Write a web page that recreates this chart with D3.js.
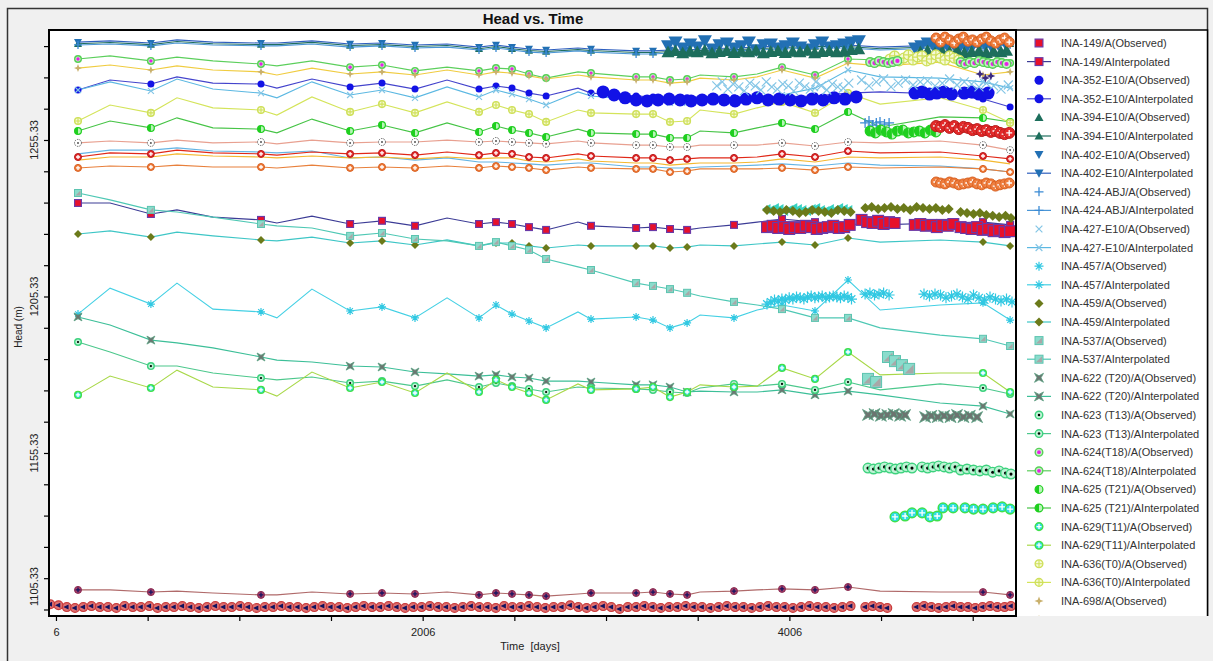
<!DOCTYPE html>
<html><head><meta charset="utf-8">
<script src="https://cdn.jsdelivr.net/npm/d3@7"></script>
<style>
html,body{margin:0;padding:0;background:#f0f0f0;}
svg{display:block;font-family:Arial,"Liberation Sans",sans-serif;}
</style></head><body>
<svg id="c" width="1213" height="661"></svg>
<script>
// ---------------- DATA ----------------
const gridDays = [126,301,524,666,862,1124,1211,1402,1610,1784,1964,2139,2313,2406,2493,2586,2679,2853,2924,3170,3262,3355,3448,3519,3704,3830,3966,4146,4326,4501,4828,5062,5210];
const obsDays = [126,524,1124,1610,1784,1964,2313,2406,2493,2586,2679,2924,3170,3262,3355,3448,3704,3966,4146,4326,5062,5210];

const h149 = [1235.2,1235.2,1231.7,1233.0,1230.7,1229.8,1228.8,1231.0,1228.5,1229.5,1227.9,1230.4,1228.5,1229.1,1228.5,1227.5,1226.6,1229.1,1227.9,1227.2,1227.5,1226.9,1226.6,1227.2,1228.2,1229.1,1230.1,1229.1,1228.5,1228.2,1228.8,1229.1,1228.2];
const h352 = [1271.3,1274.5,1273.2,1275.5,1273.5,1273.2,1271.9,1274.8,1272.3,1273.5,1271.6,1274.5,1271.6,1272.6,1271.9,1270.3,1269.4,1271.9,1270.3,1269.4,1269.1,1268.4,1268.8,1269.1,1268.8,1269.4,1269.1,1269.4,1270.3,1270.7,1270.0,1268.4,1265.9];
const h394 = [1286.1,1286.5,1285.8,1286.8,1286.1,1285.8,1285.8,1286.5,1285.5,1285.8,1285.2,1285.5,1284.5,1285.2,1284.5,1283.9,1283.6,1284.2,1283.9,1283.3,1283.3,1283.6,1283.6,1283.9,1284.2,1284.5,1284.9,1285.2,1285.2,1284.5,1285.2,1285.5,1286.1];
const h402 = [1286.6,1287.0,1286.3,1287.3,1286.6,1286.3,1286.3,1287.0,1286.0,1286.3,1285.7,1286.0,1285.0,1285.7,1285.0,1284.4,1284.1,1284.7,1284.4,1283.8,1283.8,1284.1,1284.1,1284.4,1284.7,1285.0,1285.4,1285.7,1285.7,1285.0,1285.7,1286.0,1286.6];
const h424 = [1285.7,1286.0,1285.4,1286.3,1285.7,1285.4,1285.4,1286.0,1285.0,1285.4,1284.7,1285.0,1284.1,1284.7,1284.1,1283.4,1283.1,1283.8,1283.4,1282.8,1282.8,1283.1,1283.1,1283.4,1283.8,1284.1,1284.4,1284.7,1284.7,1284.1,1284.7,1285.0,1285.7];
const h427 = [1271.3,1273.9,1271.0,1274.8,1271.6,1270.3,1268.8,1273.9,1269.7,1271.3,1268.8,1272.3,1269.1,1271.3,1270.0,1268.4,1266.5,1270.7,1269.4,1268.1,1268.1,1267.2,1267.2,1267.8,1267.5,1268.4,1269.7,1271.9,1277.7,1275.5,1275.1,1273.9,1271.9];
const h457 = [1199.7,1208.0,1202.9,1209.6,1201.3,1200.4,1198.5,1207.7,1200.7,1202.0,1198.5,1204.9,1198.5,1202.6,1199.7,1197.5,1195.3,1200.4,1198.1,1198.8,1197.8,1195.3,1196.9,1199.4,1198.5,1201.0,1202.6,1200.7,1210.6,1201.0,1202.6,1203.3,1197.8];
const h459 = [1225.3,1226.3,1224.3,1225.9,1224.7,1223.4,1223.1,1224.3,1222.4,1223.1,1221.8,1223.4,1221.5,1222.4,1222.4,1221.5,1220.8,1221.8,1221.5,1221.5,1221.5,1220.8,1221.1,1221.8,1221.5,1222.1,1222.7,1221.8,1224.0,1222.7,1223.4,1222.7,1221.5];
const h537 = [1238.4,1236.2,1233.0,1232.3,1230.7,1228.5,1227.9,1227.2,1224.7,1225.6,1223.7,1223.1,1221.5,1222.7,1221.5,1220.2,1217.3,1214.8,1213.8,1209.6,1208.7,1207.7,1206.5,1205.5,1203.6,1202.6,1201.3,1198.5,1198.5,1195.3,1193.0,1191.8,1189.5];
const h622 = [1198.8,1196.2,1191.4,1190.5,1188.9,1186.0,1185.0,1184.4,1183.1,1182.8,1181.2,1180.6,1179.9,1180.3,1179.6,1179.3,1178.3,1178.3,1178.0,1177.1,1177.1,1176.4,1174.8,1175.1,1174.8,1174.8,1175.5,1173.9,1175.1,1173.9,1171.3,1170.3,1167.8];
const h623 = [1190.8,1187.6,1183.1,1183.1,1180.9,1179.3,1178.7,1179.6,1177.7,1178.3,1176.7,1178.7,1176.4,1177.7,1176.7,1175.8,1174.8,1176.4,1176.1,1175.8,1175.5,1174.8,1174.5,1176.1,1177.4,1176.7,1177.4,1175.5,1178.0,1175.5,1177.4,1176.1,1174.2];
const h624 = [1281.2,1282.2,1280.6,1281.8,1280.6,1279.6,1279.0,1280.6,1278.6,1279.3,1277.4,1278.6,1277.4,1278.3,1278.0,1276.4,1275.1,1277.1,1276.7,1275.5,1275.5,1274.5,1274.8,1276.1,1275.5,1276.4,1278.6,1276.1,1281.2,1280.9,1282.5,1280.2,1279.9];
const h625 = [1258.2,1261.4,1259.2,1262.4,1259.2,1258.8,1257.6,1262.0,1258.2,1260.1,1257.6,1260.8,1257.9,1259.8,1258.5,1257.6,1256.3,1258.8,1257.6,1257.2,1257.2,1256.0,1256.0,1258.2,1257.6,1259.2,1260.8,1258.8,1264.3,1259.5,1262.7,1262.4,1261.1];
const h629 = [1173.9,1179.9,1176.1,1181.8,1176.4,1175.5,1173.5,1181.2,1176.1,1178.0,1174.5,1180.9,1174.8,1178.7,1176.4,1174.5,1172.3,1177.4,1175.5,1175.8,1176.4,1173.2,1174.8,1177.1,1176.4,1176.7,1182.5,1179.0,1187.6,1180.3,1180.9,1180.9,1174.8];
const h636 = [1261.4,1266.5,1264.0,1268.8,1265.6,1264.9,1263.3,1269.1,1264.3,1266.8,1264.0,1267.5,1264.3,1266.5,1264.9,1263.6,1261.1,1264.9,1264.0,1263.6,1263.6,1261.1,1261.4,1264.9,1263.6,1265.6,1267.5,1264.0,1270.3,1266.8,1268.8,1264.9,1260.8];
const h698 = [1278.3,1279.3,1277.7,1279.0,1277.7,1277.1,1276.1,1278.3,1276.4,1277.1,1276.1,1277.7,1276.1,1277.1,1276.7,1275.8,1274.8,1276.1,1275.5,1274.5,1274.5,1273.5,1273.9,1275.1,1274.5,1275.5,1277.7,1275.1,1279.9,1279.0,1280.2,1276.1,1277.1];
// wells below the visible part of the legend
const hS1 = [1254.4,1255.0,1254.4,1255.3,1254.4,1254.7,1254.1,1255.3,1254.4,1254.7,1254.7,1255.3,1254.7,1255.0,1254.7,1254.4,1254.1,1255.0,1254.4,1253.7,1253.7,1253.1,1253.1,1253.7,1253.7,1253.7,1254.4,1253.4,1254.7,1254.4,1255.0,1253.7,1252.1];
const hS2 = [1249.9,1251.2,1250.9,1252.1,1251.2,1250.9,1250.5,1251.5,1250.9,1251.2,1250.5,1251.5,1250.5,1251.2,1250.9,1249.9,1249.6,1250.9,1250.2,1249.6,1249.6,1248.9,1249.3,1249.6,1249.6,1249.9,1250.9,1249.9,1251.8,1251.2,1251.5,1250.2,1249.3];
const hS3 = [1248.9,1249.9,1249.9,1250.9,1250.2,1249.9,1249.6,1250.2,1249.6,1249.9,1249.3,1249.9,1249.3,1249.6,1249.6,1248.6,1248.3,1249.3,1248.6,1248.0,1248.0,1247.3,1247.7,1248.0,1248.0,1248.3,1249.3,1248.3,1249.9,1249.6,1249.9,1248.9,1247.7];
const hS4 = [1250.9,1252.1,1252.1,1252.8,1251.8,1251.5,1251.2,1251.8,1249.6,1249.9,1248.9,1249.6,1248.3,1248.3,1248.0,1247.7,1247.3,1248.0,1248.0,1246.7,1246.7,1246.4,1246.4,1246.7,1247.0,1247.3,1247.7,1247.0,1248.0,1247.3,1247.0,1246.1,1245.1];
const hS5 = [1246.4,1247.0,1246.7,1247.3,1246.7,1246.7,1246.4,1247.3,1246.4,1246.7,1246.4,1247.0,1246.4,1247.0,1246.7,1246.4,1245.7,1246.7,1246.4,1246.1,1246.1,1245.1,1245.4,1246.1,1246.1,1246.1,1246.4,1245.7,1246.7,1246.4,1246.7,1246.1,1245.1];
const hS7 = [1111.6,1111.6,1110.9,1111.2,1110.6,1110.0,1110.0,1110.9,1110.3,1110.6,1110.3,1110.9,1110.0,1110.6,1110.3,1110.0,1109.6,1110.3,1110.6,1110.6,1110.9,1110.3,1110.0,1110.9,1111.2,1111.6,1111.9,1111.6,1112.5,1111.2,1110.9,1110.9,1110.0];

// dense observation clusters
const c402Days = [3344,3385,3425,3465,3505,3545,3585,3625,3665,3705,3745,3785,3825,3865,3905,3945,3985,4025,4065,4105,4145,4185,4225,4265,4305,4345,4385,4691,4725,4760,4795,4830,4865,4900,4935,4970,5005,5040,5075,5110,5145,5180];
const c402Vals = [1285.4,1286.6,1284.7,1286.0,1285.0,1287.0,1284.4,1285.7,1286.3,1284.7,1285.4,1286.6,1284.1,1285.7,1286.0,1284.7,1285.4,1286.3,1285.0,1284.4,1285.7,1286.6,1285.0,1285.4,1286.0,1286.6,1287.0,1284.7,1285.4,1286.3,1285.0,1284.4,1285.7,1286.0,1285.0,1284.7,1285.4,1286.3,1285.7,1285.0,1286.0,1286.6];
const c394Days = [3344,3384,3424,3464,3504,3544,3584,3624,3664,3704,3744,3784,3824,3864,3904,3944,3984,4024,4064,4104,4144,4184,4224,4264,4304,4344,4384,4720,4760,4800,4840,4880,4920,4960,5000,5040,5080,5120,5160,5190];
const c394Vals = [1283.4,1283.8,1283.1,1283.6,1283.4,1283.9,1283.1,1283.5,1283.8,1283.2,1283.6,1283.4,1283.9,1283.1,1283.5,1283.8,1283.2,1283.6,1283.4,1283.9,1283.1,1283.5,1283.8,1283.4,1283.6,1284.1,1284.4,1283.4,1283.8,1283.1,1283.6,1283.4,1283.9,1283.1,1283.5,1283.8,1283.2,1283.6,1283.4,1283.9];
const lateDays = [4806,4830,4855,4880,4905,4930,4955,4980,5005,5030,5055,5080,5105,5130,5155,5180,5205];
const cS9Vals = [1287.9,1286.6,1288.2,1287.3,1286.3,1287.6,1288.2,1286.9,1287.3,1286.6,1287.6,1288.2,1287.0,1286.3,1287.3,1287.9,1286.6];
const cS2Vals = [1259.8,1259.5,1260.1,1259.2,1259.8,1258.8,1259.5,1259.2,1258.5,1258.8,1258.2,1258.5,1257.9,1258.2,1257.6,1257.2,1257.6];
const cS5Vals = [1241.9,1241.6,1241.3,1241.9,1241.6,1241.0,1241.3,1241.6,1241.9,1241.3,1241.0,1241.6,1241.3,1240.6,1241.0,1241.3,1241.6];
const c624Days = [4446,4470,4495,4520,4545,4570,4595,4940,4965,4990,5015,5040,5065,5090,5115,5140,5165,5190];
const c624Vals = [1280.2,1279.9,1280.6,1280.2,1279.9,1280.2,1280.6,1280.2,1279.6,1280.2,1279.9,1280.6,1280.2,1279.9,1279.6,1280.2,1279.9,1279.6];
const c636Days = [4555,4580,4605,4630,4655,4680,4705,4730,4755,4780,4805,4830,4855,4880,4905,4930];
const c636Vals = [1281.2,1282.2,1280.6,1281.5,1282.5,1280.9,1281.8,1282.2,1280.6,1281.2,1282.5,1281.5,1280.9,1282.2,1281.5,1280.9];
const c698Days = [5045,5075,5105];
const c698Vals = [1276.4,1275.1,1275.8];
const c427Days = [3610,3640,3670,3700,3730,3760,3790,3820,3850,3880,3910,3940,3970,4000,4030,4060,4090,4120,4150,4180,4210,4240,4270,4300,4330,4400,4440,4480,4520,4560,4600,4640,4680,4720,4760,4800,4840,4880,4920,4960,5000,5040,5080,5120,5160,5200];
const c427Vals = [1272.6,1273.9,1271.6,1273.2,1272.3,1271.0,1273.5,1272.6,1271.3,1273.9,1272.3,1271.6,1273.2,1272.6,1271.0,1273.5,1272.3,1271.6,1273.9,1272.6,1271.3,1273.2,1272.3,1271.9,1273.5,1274.5,1272.6,1273.9,1274.8,1272.3,1273.5,1274.5,1272.9,1273.9,1274.2,1272.6,1273.5,1274.8,1272.9,1273.9,1273.2,1272.3,1273.5,1272.6,1271.6,1272.9];
const c352Days = [2990,3050,3110,3170,3230,3290,3350,3410,3470,3530,3590,3650,3710,3770,3830,3890,3950,4010,4070,4130,4190,4250,4310,4370,4691,4730,4770,4810,4850,4890,4960,5000,5040,5090];
const c352Vals = [1270.7,1269.7,1268.8,1268.1,1267.8,1268.1,1268.4,1268.1,1267.8,1268.1,1268.4,1268.1,1267.8,1268.4,1268.8,1268.1,1268.4,1268.1,1267.8,1268.4,1268.1,1268.8,1268.4,1269.1,1270.3,1270.7,1270.0,1270.3,1270.7,1270.0,1270.3,1270.7,1270.0,1270.3];
const c424Days = [4419,4440,4460,4480,4500,4525,4550];
const c424Vals = [1260.8,1261.4,1260.1,1260.8,1261.1,1260.4,1260.8];
const c625Days = [4446,4475,4505,4535,4565,4595,4625,4655,4685,4715,4745,4775,4805];
const c625Vals = [1258.2,1257.6,1258.5,1257.9,1257.2,1258.2,1258.5,1257.6,1257.9,1258.2,1257.6,1258.5,1257.9];
const c459Days = [3884,3920,3955,3990,4025,4060,4095,4130,4165,4200,4235,4270,4305,4340,4420,4455,4490,4525,4560,4595,4630,4665,4700,4735,4770,4805,4840,4875,4940,4975,5010,5045,5080,5115,5150,5185,5215];
const c459Vals = [1233.0,1232.6,1232.3,1233.0,1232.6,1232.0,1232.3,1233.0,1232.6,1232.3,1232.0,1233.0,1232.6,1232.3,1233.6,1233.9,1233.3,1233.6,1233.9,1233.3,1233.6,1233.0,1233.9,1233.6,1233.3,1233.6,1233.0,1233.3,1232.3,1232.0,1231.7,1232.0,1231.4,1231.1,1230.7,1231.1,1230.4];
const cS10Days = [3884,3905,3930,3955,3980,4005,4030,4055,4080,4105,4130,4155,4180,4205,4230,4255,4280,4305,4330];
const cS10Vals = [1233.3,1233.0,1233.6,1233.3,1232.6,1233.0,1233.6,1233.3,1233.0,1232.6,1233.3,1233.6,1233.0,1232.6,1233.3,1233.0,1233.6,1233.3,1233.0];
const c149Days = [3884,3915,3945,3975,4005,4035,4065,4095,4125,4155,4185,4215,4245,4275,4305,4335,4400,4430,4460,4490,4520,4550,4580,4690,4720,4750,4780,4810,4840,4870,4900,4940,4970,5000,5030,5060,5090,5120,5150,5180,5210];
const c149Vals = [1227.5,1227.9,1227.2,1227.5,1226.9,1227.5,1227.2,1227.9,1227.5,1226.9,1227.2,1227.5,1227.9,1227.2,1227.5,1228.2,1229.8,1229.1,1228.8,1229.5,1228.5,1229.1,1228.8,1228.2,1228.5,1227.9,1228.2,1227.5,1228.2,1227.9,1228.5,1227.5,1227.2,1226.9,1227.5,1226.6,1226.9,1226.2,1226.6,1225.9,1226.2];
const c457Days = [3884,3905,3925,3945,3965,3985,4005,4025,4045,4065,4085,4105,4125,4145,4165,4185,4205,4225,4245,4265,4285,4305,4325,4345,4419,4445,4470,4495,4520,4550,4740,4770,4800,4830,4860,4890,4920,4950,4980,5010,5040,5070,5100,5130,5160,5190,5220];
const c457Vals = [1202.9,1203.6,1204.2,1203.9,1204.5,1204.2,1204.9,1204.5,1205.2,1204.9,1204.5,1205.2,1205.5,1204.9,1205.2,1205.5,1204.9,1205.2,1205.5,1205.2,1204.9,1205.5,1205.2,1204.5,1206.1,1206.4,1205.8,1206.1,1206.4,1205.8,1206.1,1205.5,1206.1,1205.8,1204.9,1205.5,1206.1,1205.2,1204.5,1205.8,1204.9,1204.2,1205.2,1204.5,1203.9,1204.5,1203.6];
const c537Days = [4435,4479,4544,4582,4620,4659];
const c537Vals = [1179.0,1178.0,1186.0,1184.7,1183.4,1182.2];
const c622Days = [4435,4470,4505,4540,4575,4610,4637,4746,4780,4815,4850,4885,4920,4955,4990,5030];
const c622Vals = [1167.5,1167.8,1167.2,1167.5,1167.8,1167.2,1167.5,1166.8,1167.2,1166.8,1167.2,1166.8,1167.5,1166.8,1167.2,1166.8];
const c623Days = [4435,4465,4495,4525,4555,4585,4615,4645,4675,4730,4760,4790,4820,4850,4880,4910,4940,4975,5010,5045,5080,5115,5150,5185,5215];
const c623Vals = [1150.5,1150.2,1150.5,1150.9,1150.5,1150.2,1150.5,1150.9,1150.5,1150.9,1150.5,1150.9,1151.2,1150.9,1150.5,1150.9,1149.9,1150.2,1149.9,1149.6,1149.9,1149.2,1149.6,1148.9,1148.6];
const c629Days = [4582,4637,4675,4730,4773,4812,4844,4899,4964,5010,5062,5117,5166,5210];
const c629Vals = [1134.9,1135.2,1136.2,1136.2,1134.9,1135.2,1137.8,1137.8,1137.8,1137.4,1137.4,1137.8,1138.1,1137.4];
const cS8Days = [-25,20,65,110,155,200,245,290,335,380,425,470,515,560,605,650,695,740,785,830,875,920,965,1010,1055,1100,1145,1190,1235,1280,1325,1370,1415,1460,1505,1550,1595,1640,1685,1730,1775,1820,1865,1910,1955,2000,2045,2090,2135,2180,2225,2270,2315,2360,2405,2450,2495,2540,2585,2630,2675,2720,2765,2810,2855,2900,2945,2990,3035,3080,3125,3170,3215,3260,3305,3350,3395,3440,3485,3530,3575,3620,3665,3710,3755,3800,3845,3890,3935,3980,4025,4070,4115,4160,4205,4250,4295,4340,4420,4460,4500,4540,4700,4740,4780,4820,4860,4900,4940,4980,5020,5060,5100,5140,5180,5215];
const cS8Vals = [1107.0,1106.7,1106.1,1105.8,1106.1,1106.4,1106.1,1106.1,1105.8,1106.4,1106.1,1106.1,1106.4,1105.8,1106.1,1106.1,1106.4,1106.1,1105.8,1106.1,1106.4,1106.1,1106.1,1106.4,1106.1,1105.8,1106.1,1106.1,1106.4,1106.1,1106.1,1105.8,1106.1,1106.4,1106.1,1106.1,1105.8,1106.1,1106.4,1106.1,1106.1,1106.4,1106.1,1105.8,1106.1,1106.1,1106.4,1106.1,1106.1,1105.8,1106.1,1106.4,1106.1,1106.1,1105.8,1106.4,1106.1,1106.1,1106.4,1106.1,1105.8,1106.1,1106.1,1106.7,1106.1,1105.8,1106.1,1106.4,1106.1,1105.5,1106.1,1106.1,1106.4,1106.1,1105.8,1106.1,1106.1,1106.4,1106.1,1106.1,1105.8,1106.1,1106.4,1106.1,1106.1,1105.8,1106.1,1106.4,1106.1,1106.1,1105.8,1106.1,1106.4,1106.1,1106.1,1105.8,1106.1,1106.4,1106.1,1106.4,1106.1,1105.8,1106.1,1106.4,1106.1,1105.8,1106.1,1106.4,1106.1,1106.1,1105.8,1106.1,1106.4,1106.1,1106.1,1106.4];

const legendLabels = ["INA-149/A(Observed)","INA-149/AInterpolated","INA-352-E10/A(Observed)","INA-352-E10/AInterpolated","INA-394-E10/A(Observed)","INA-394-E10/AInterpolated","INA-402-E10/A(Observed)","INA-402-E10/AInterpolated","INA-424-ABJ/A(Observed)","INA-424-ABJ/AInterpolated","INA-427-E10/A(Observed)","INA-427-E10/AInterpolated","INA-457/A(Observed)","INA-457/AInterpolated","INA-459/A(Observed)","INA-459/AInterpolated","INA-537/A(Observed)","INA-537/AInterpolated","INA-622 (T20)/A(Observed)","INA-622 (T20)/AInterpolated","INA-623 (T13)/A(Observed)","INA-623 (T13)/AInterpolated","INA-624(T18)/A(Observed)","INA-624(T18)/AInterpolated","INA-625 (T21)/A(Observed)","INA-625 (T21)/AInterpolated","INA-629(T11)/A(Observed)","INA-629(T11)/AInterpolated","INA-636(T0)/A(Observed)","INA-636(T0)/AInterpolated","INA-698/A(Observed)","INA-698/AInterpolated"];
const xTickValues = [6,506,1006,1506,2006,2506,3006,3506,4006,4506,5006];
const xTickLabels = ["6","2006","4006"];
const yTickValues = [1105.33,1115.33,1125.33,1135.33,1145.33,1155.33,1165.33,1175.33,1185.33,1195.33,1205.33,1215.33,1225.33,1235.33,1245.33,1255.33,1265.33,1275.33,1285.33];
const yTickLabels = ["1105.33","1155.33","1205.33","1255.33"];

// ---------------- SERIES TABLE ----------------
const named = [
  {vals:h149, color:'#3c3c96', marker:'square'},
  {vals:h352, color:'#4444cc', marker:'circle', ms:7},
  {vals:h394, color:'#1f6e5e', marker:'triUp'},
  {vals:h402, color:'#2f5fbf', marker:'triDown'},
  {vals:h424, color:'#4b96d6', marker:'plus'},
  {vals:h427, color:'#5cb8e2', marker:'cross'},
  {vals:h457, color:'#44d0e4', marker:'asterisk'},
  {vals:h459, color:'#3ec6c6', marker:'diamond'},
  {vals:h537, color:'#4ec8b4', marker:'halfSquare'},
  {vals:h622, color:'#3cbf98', marker:'bowtie'},
  {vals:h623, color:'#4cc88c', marker:'dotCircle'},
  {vals:h624, color:'#5ccf5c', marker:'magenta'},
  {vals:h625, color:'#46c446', marker:'half'},
  {vals:h629, color:'#a8d848', marker:'cyanPlus'},
  {vals:h636, color:'#d4e45a', marker:'ycircle'},
  {vals:h698, color:'#f0cc40', marker:'star4'}
];
const hidden = [
  {vals:hS1, color:'#e8a090', marker:'whiteDot'},
  {vals:hS4, color:'#64b4e4', marker:null},
  {vals:hS3, color:'#f4b830', marker:null},
  {vals:hS2, color:'#e02818', marker:'redCross'},
  {vals:hS5, color:'#e8803c', marker:'orangeCross'},
  {vals:hS7, color:'#b06a6a', marker:'maroonPlus'}
];
const clusters = [
  {days:c352Days, vals:c352Vals, marker:'circle', s:13},
  {days:c427Days, vals:c427Vals, marker:'cross', s:12},
  {days:c402Days, vals:c402Vals, marker:'triDown', s:14},
  {days:c394Days, vals:c394Vals, marker:'triUp', s:13},
  {days:lateDays, vals:cS9Vals, marker:'orangeCross', s:11},
  {days:c636Days, vals:c636Vals, marker:'ycircle', s:11},
  {days:c624Days, vals:c624Vals, marker:'magenta', s:10},
  {days:c698Days, vals:c698Vals, marker:'star4d', s:9},
  {days:c424Days, vals:c424Vals, marker:'plus', s:10},
  {days:c625Days, vals:c625Vals, marker:'half', s:11},
  {days:lateDays, vals:cS2Vals, marker:'redCross', s:12},
  {days:lateDays, vals:cS5Vals, marker:'orangeCross', s:11},
  {days:cS10Days, vals:cS10Vals, marker:'tealLeft', s:10},
  {days:c459Days, vals:c459Vals, marker:'diamond', s:10},
  {days:c149Days, vals:c149Vals, marker:'square', s:12},
  {days:c457Days, vals:c457Vals, marker:'asterisk', s:11},
  {days:c537Days, vals:c537Vals, marker:'halfSquare', s:12},
  {days:c622Days, vals:c622Vals, marker:'bowtie', s:11},
  {days:c623Days, vals:c623Vals, marker:'dotCircle', s:11},
  {days:c629Days, vals:c629Vals, marker:'cyanPlus', s:11},
  {days:cS8Days, vals:cS8Vals, marker:'navyLeft', s:10}
];

// ---------------- DRAW ----------------
const svg = d3.select('#c');
const L = 49, R = 1016, T = 30, B = 616;
const x = d3.scaleLinear().domain([-32, 5242]).range([L, R]);
const y = d3.scaleLinear().domain([1103.25, 1290.47]).range([B, T]);

svg.append('rect').attr('width',1213).attr('height',661).attr('fill','#f0f0f0');
svg.append('path').attr('d','M7.5,661V8.5H1207.5V616').attr('fill','none').attr('stroke','#333').attr('stroke-width',1.5);
svg.append('text').attr('x',533).attr('y',24).attr('text-anchor','middle').attr('font-size',15).attr('font-weight','bold').attr('fill','#111').text('Head vs. Time');

svg.append('rect').attr('x',L).attr('y',T).attr('width',R-L).attr('height',B-T).attr('fill','#fff');
svg.append('rect').attr('x',R).attr('y',T).attr('width',1207-R).attr('height',B-T).attr('fill','#fff');

svg.append('defs').append('clipPath').attr('id','pc').append('rect').attr('x',L).attr('y',T).attr('width',R-L).attr('height',B-T);
svg.select('defs').append('clipPath').attr('id','lc').append('rect').attr('x',R).attr('y',T).attr('width',1207-R).attr('height',B-T);

function drawMarker(g, type, cx, cy, s) {
  const r = s / 2;
  const m = g.append('g').attr('transform', `translate(${cx.toFixed(1)},${cy.toFixed(1)})`);
  const P = (d, f, st, sw) => m.append('path').attr('d', d).attr('fill', f).attr('stroke', st || 'none').attr('stroke-width', sw || 1);
  const C = (rr, f, st, sw) => m.append('circle').attr('r', rr).attr('fill', f).attr('stroke', st || 'none').attr('stroke-width', sw || 1);
  const plusD = k => `M${-k},0H${k}M0,${-k}V${k}`;
  const xD = k => `M${-k},${-k}L${k},${k}M${k},${-k}L${-k},${k}`;
  const star = `M0,${-r}L${r*0.28},${-r*0.28}L${r},0L${r*0.28},${r*0.28}L0,${r}L${-r*0.28},${r*0.28}L${-r},0L${-r*0.28},${-r*0.28}Z`;
  switch (type) {
    case 'square': m.append('rect').attr('x',-r+0.6).attr('y',-r+0.6).attr('width',s-1.2).attr('height',s-1.2).attr('fill','#e8102a').attr('stroke','#6a3aa8').attr('stroke-width',1.2); break;
    case 'circle': C(r, '#1212e6'); break;
    case 'triUp': P(`M0,${-r}L${r},${r*0.8}L${-r},${r*0.8}Z`, '#1d6e5c'); break;
    case 'triDown': P(`M0,${r}L${r},${-r*0.8}L${-r},${-r*0.8}Z`, '#2270b4'); break;
    case 'plus': P(plusD(r), 'none', '#3a8ad4', 1.3); break;
    case 'cross': P(xD(r*0.75), 'none', '#84c6e6', 1.2); break;
    case 'asterisk': P(plusD(r) + xD(r*0.7), 'none', '#30c8e2', 1.2); break;
    case 'diamond': P(`M0,${-r}L${r},0L0,${r}L${-r},0Z`, '#6b7a1a'); break;
    case 'halfSquare':
      m.append('rect').attr('x',-r+0.5).attr('y',-r+0.5).attr('width',s-1).attr('height',s-1).attr('fill','#8adccc').attr('stroke','#5cc4b0').attr('stroke-width',1);
      P(`M${r-1.5},${-r+1.5}L${r-1.5},${r-1.5}L${-r+1.5},${r-1.5}Z`, '#a8a8a8'); break;
    case 'bowtie': P(`M${-r},${-r}L0,${-r*0.45}L${r},${-r}L${r*0.45},0L${r},${r}L0,${r*0.45}L${-r},${r}L${-r*0.45},0Z`, '#6c7470', '#58a080', 0.8); break;
    case 'dotCircle': C(r-0.7, '#bff3d6', '#3ed27e', 1.4); C(r*0.28, '#000'); break;
    case 'magenta': C(r-0.7, '#c4f0c4', '#56d056', 1.4); C(r*0.42, '#e81ee8'); break;
    case 'half': C(r-0.6, '#b8f4b8', '#1fcf1f', 1.2); P(`M0,${-r+0.6}A${r-0.6},${r-0.6} 0 0 0 0,${r-0.6}Z`, '#1fcf1f'); break;
    case 'cyanPlus': C(r-0.7, '#2fdde6', '#3fe04a', 1.5); P(plusD(r*0.55), 'none', '#fff', 1.3); break;
    case 'ycircle': C(r-0.6, '#f6fad8', '#cfe05a', 1.3); P(plusD(r-0.6), 'none', '#cfe05a', 1.1); break;
    case 'star4': P(star, '#c9b06c'); break;
    case 'star4d': P(star, '#3a2a80'); break;
    case 'redCross': C(r-0.5, '#e42a2a', '#b81c1c', 1); P(plusD(r*0.5), 'none', '#fff', 1.3); break;
    case 'orangeCross': C(r-0.5, '#ef7d3d', '#d86020', 1); P(plusD(r*0.5), 'none', '#fff', 1.3); break;
    case 'whiteDot': C(r-0.5, '#fff', '#606060', 1).attr('stroke-dasharray','1.5,1'); C(r*0.25, '#555'); break;
    case 'navyLeft': C(r-0.6, '#e07272', '#c83a3a', 1.2); P(`M${-r*0.7},0L${r*0.35},${-r*0.5}L${r*0.35},${r*0.5}Z`, '#12125e'); break;
    case 'maroonPlus': C(r-0.5, '#a8406a', '#8a2a50', 1); P(plusD(r*0.6), 'none', '#141460', 1.3); break;
    case 'tealLeft': P(`M${-r},0L${r*0.7},${-r}L${r*0.7},${r}Z`, '#36d2c2'); break;
  }
  return m;
}

const plot = svg.append('g').attr('clip-path','url(#pc)');
const lineGen = d3.line().x(d => x(d[0])).y(d => y(d[1]));
const allLines = hidden.concat(named);
allLines.forEach(s => {
  plot.append('path').datum(d3.zip(gridDays, s.vals)).attr('d', lineGen)
    .attr('fill','none').attr('stroke', s.color).attr('stroke-width', 1.1);
});
allLines.forEach(s => {
  if (!s.marker) return;
  obsDays.forEach(d => {
    const i = gridDays.indexOf(d);
    drawMarker(plot, s.marker, x(d), y(s.vals[i]), s.ms || 8);
  });
});
clusters.forEach(c => {
  c.days.forEach((d, i) => drawMarker(plot, c.marker, x(d), y(c.vals[i]), c.s));
});

svg.append('rect').attr('x',L).attr('y',T).attr('width',R-L).attr('height',B-T).attr('fill','none').attr('stroke','#000').attr('stroke-width',2);

const xAxis = d3.axisBottom(x).tickValues(xTickValues).tickSize(5)
  .tickFormat(d => xTickLabels.includes(String(d)) ? String(d) : '');
const gx = svg.append('g').attr('transform',`translate(0,${B})`).call(xAxis);
gx.select('.domain').remove();
gx.selectAll('line').attr('stroke','#000').attr('stroke-width',1.2);
gx.selectAll('text').attr('font-size',11).attr('fill','#222').attr('dy','1.05em').attr('font-family','Arial, "Liberation Sans", sans-serif');

const yAxis = d3.axisLeft(y).tickValues(yTickValues).tickSize(5).tickFormat('');
const gy = svg.append('g').attr('transform',`translate(${L},0)`).call(yAxis);
gy.select('.domain').remove();
gy.selectAll('line').attr('stroke','#000').attr('stroke-width',1.2);

yTickLabels.forEach(t => {
  const v = +t;
  const tx = svg.append('text').attr('text-anchor','middle').attr('font-size',11).attr('fill','#222').text(t);
  const w = tx.node().getComputedTextLength();
  const cy = Math.min(y(v), B - 10 - w / 2);
  tx.attr('transform', `translate(38,${cy}) rotate(-90)`);
});
svg.append('text').attr('transform','translate(22,327) rotate(-90)').attr('text-anchor','middle').attr('font-size',10).attr('fill','#222').text('Head (m)');
svg.append('text').attr('x',530).attr('y',650).attr('text-anchor','middle').attr('font-size',11).attr('fill','#222').style('white-space','pre').text('Time  [days]');

const lg = svg.append('g').attr('clip-path','url(#lc)');
legendLabels.forEach((lab, i) => {
  const s = named[Math.floor(i / 2)];
  const cy = 43 + i * 18.6;
  if (i % 2 === 1) {
    lg.append('line').attr('x1',1027).attr('x2',1051).attr('y1',cy).attr('y2',cy).attr('stroke', s.color).attr('stroke-width',1.2);
  }
  drawMarker(lg, s.marker, 1039, cy, 9);
  lg.append('text').attr('x',1061).attr('y',cy + 4).attr('font-size',11).attr('fill','#333').text(lab);
});
svg.append('path').attr('d',`M${R},${T}H1207.5V${B}`).attr('fill','none').attr('stroke','#000').attr('stroke-width',1.5);
</script></body></html>
